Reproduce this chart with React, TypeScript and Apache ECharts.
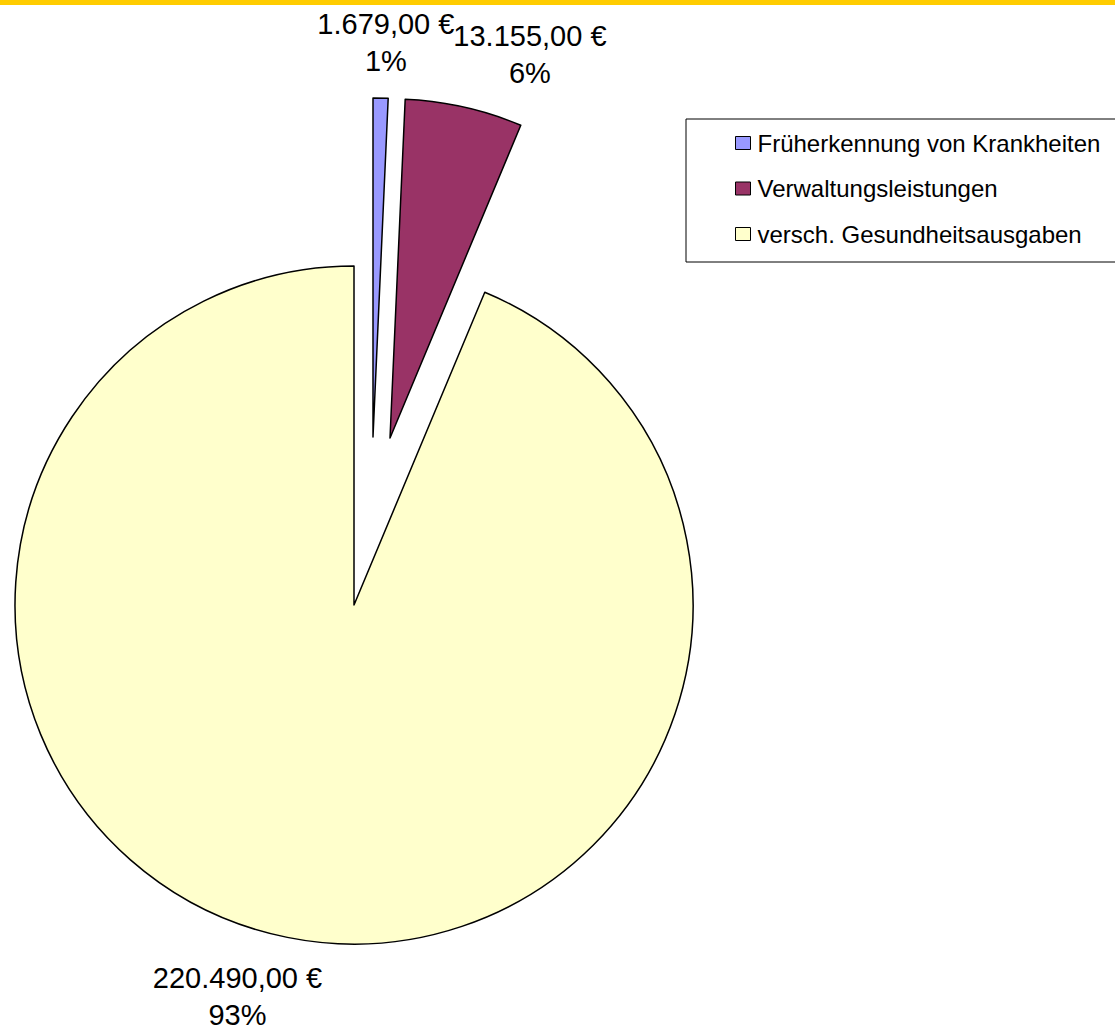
import React, { useEffect, useRef } from 'react';
import * as echarts from 'echarts';

// ---- data ----
const categories = ['Früherkennung von Krankheiten', 'Verwaltungsleistungen', 'versch. Gesundheitsausgaben'];
const amounts = [1679, 13155, 220490];
const shareLabels = ['1%', '6%', '93%'];

// ---- styling / layout ----
const colors = ['#9999FF', '#993366', '#FFFFCC'];
const sliceCenters = [[373, 437], [390, 438], [354, 605]];
const pieRadius = 339;
const labelLineLens = [56, 54, 60];
const labelNudges = [[4, 0], [54, 0], [-38, 0]];
const fontFamily = '"Liberation Sans", Arial, Helvetica, sans-serif';

function formatEuro(v: number): string {
  const [i, d] = v.toFixed(2).split('.');
  return i.replace(/\B(?=(\d{3})+(?!\d))/g, '.') + ',' + d + ' €';
}

export default function App() {
  const ref = useRef<HTMLDivElement>(null);

  useEffect(() => {
    if (!ref.current) return;
    const chart = echarts.init(ref.current, undefined, { renderer: 'svg' });

    const series = categories.map((_, k) => ({
      type: 'pie',
      center: sliceCenters[k],
      radius: pieRadius,
      startAngle: 90,
      clockwise: true,
      avoidLabelOverlap: false,
      silent: true,
      emphasis: { disabled: true },
      labelLine: { show: false, length: labelLineLens[k], length2: 0 },
      label: { show: false },
      labelLayout: () => ({
        align: 'center',
        verticalAlign: 'middle',
        dx: labelNudges[k][0],
        dy: labelNudges[k][1],
      }),
      data: amounts.map((v, j) =>
        j === k
          ? {
              name: categories[j],
              value: v,
              itemStyle: { color: colors[j], borderColor: '#000', borderWidth: 1.5 },
              label: {
                show: true,
                position: 'outside',
                distanceToLabelLine: 0,
                formatter: `${formatEuro(v)}\n${shareLabels[j]}`,
                fontSize: 29,
                lineHeight: 37,
                color: '#000',
                fontFamily,
              },
            }
          : {
              name: `hidden-${k}-${j}`,
              value: v,
              itemStyle: { color: 'transparent', borderWidth: 0 },
              label: { show: false },
            }
      ),
    }));

    chart.setOption({
      animation: false,
      backgroundColor: '#fff',
      graphic: [
        {
          type: 'rect',
          shape: { x: 0, y: 0, width: 1115, height: 5 },
          style: { fill: '#FFCC00' },
          silent: true,
        },
      ],
      legend: {
        orient: 'vertical',
        left: 686,
        top: 119,
        data: categories,
        padding: [12, 60, 16, 49],
        itemGap: 21.5,
        itemWidth: 15,
        itemHeight: 13,
        borderColor: '#000',
        borderWidth: 1,
        icon: 'rect',
        selectedMode: false,
        itemStyle: { borderColor: '#000', borderWidth: 1 },
        textStyle: { fontSize: 24, lineHeight: 24, color: '#000', fontFamily, padding: [0, 0, 0, 2] },
      },
      series,
    } as any);

    return () => chart.dispose();
  }, []);

  return (
    <div
      ref={ref}
      style={{ position: 'absolute', left: 0, top: 0, width: 1115, height: 1027, background: '#fff' }}
    />
  );
}
